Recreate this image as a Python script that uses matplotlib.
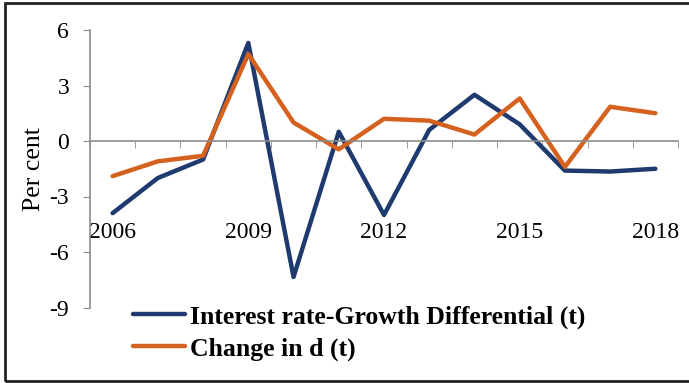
import matplotlib
matplotlib.use("Agg")
import matplotlib.pyplot as plt
import numpy as np
from matplotlib.patches import Rectangle

years = ["2006", "2007", "2008", "2009", "2010", "2011", "2012",
         "2013", "2014", "2015", "2016", "2017", "2018"]
irgd = [-3.9, -2.0, -1.0, 5.3, -7.35, 0.5, -4.0, 0.6, 2.5, 0.9, -1.6, -1.65, -1.5]
change_d = [-1.9, -1.1, -0.8, 4.7, 1.0, -0.45, 1.2, 1.1, 0.35, 2.3, -1.4, 1.85, 1.5]
yticks = [-9, -6, -3, 0, 3, 6]

plt.rcParams["font.family"] = ["Liberation Serif", "DejaVu Serif"]

fig = plt.figure(figsize=(6.89, 3.83), dpi=100)
ax = fig.add_axes([90 / 689, 1 - 307.5 / 383, (678 - 90) / 689, (307.5 - 30) / 383])

x = np.arange(len(years))
ax.plot(x, irgd, color="#1f3a6e", lw=3.2, solid_capstyle="round",
        label="Interest rate-Growth Differential (t)")
ax.plot(x, change_d, color="#d5611f", lw=3.2, solid_capstyle="round",
        label="Change in d (t)")

ax.set_xlim(-0.5, len(years) - 0.5)
ax.set_ylim(-9, 6)
ax.set_yticks(yticks)
ax.set_yticklabels([str(v) for v in yticks])

ax.set_xticks(x[::3])
ax.set_xticklabels(years[::3])
ax.set_xticks(np.arange(-0.5, len(years), 1), minor=True)
ax.tick_params(axis="x", which="major", length=0, pad=58, labelsize=17)
ax.tick_params(axis="x", which="minor", length=5, direction="out", color="#8c8c8c")
ax.tick_params(axis="y", length=5, color="#8c8c8c", pad=10, labelsize=17)

for s in ["top", "right"]:
    ax.spines[s].set_visible(False)
ax.spines["bottom"].set_position(("data", 0))
ax.spines["bottom"].set_color("#8c8c8c")
ax.spines["left"].set_color("#8c8c8c")
ax.spines["bottom"].set_linewidth(1.2)
ax.spines["left"].set_linewidth(1.2)

ax.set_ylabel("Per cent", fontsize=18.5, labelpad=3)

leg = ax.legend(loc="upper left", bbox_to_anchor=(0.056, 0.045), frameon=False,
                prop={"weight": "bold", "size": 18.5}, handlelength=2.0,
                handletextpad=0.2, labelspacing=0.33, borderaxespad=0)

fig.patches.append(Rectangle((5 / 689, 2 / 383), 1.0, 1 - 5 / 383,
                             transform=fig.transFigure, fill=False,
                             edgecolor="#222222", lw=2))

fig.savefig("out.png", dpi=100)
